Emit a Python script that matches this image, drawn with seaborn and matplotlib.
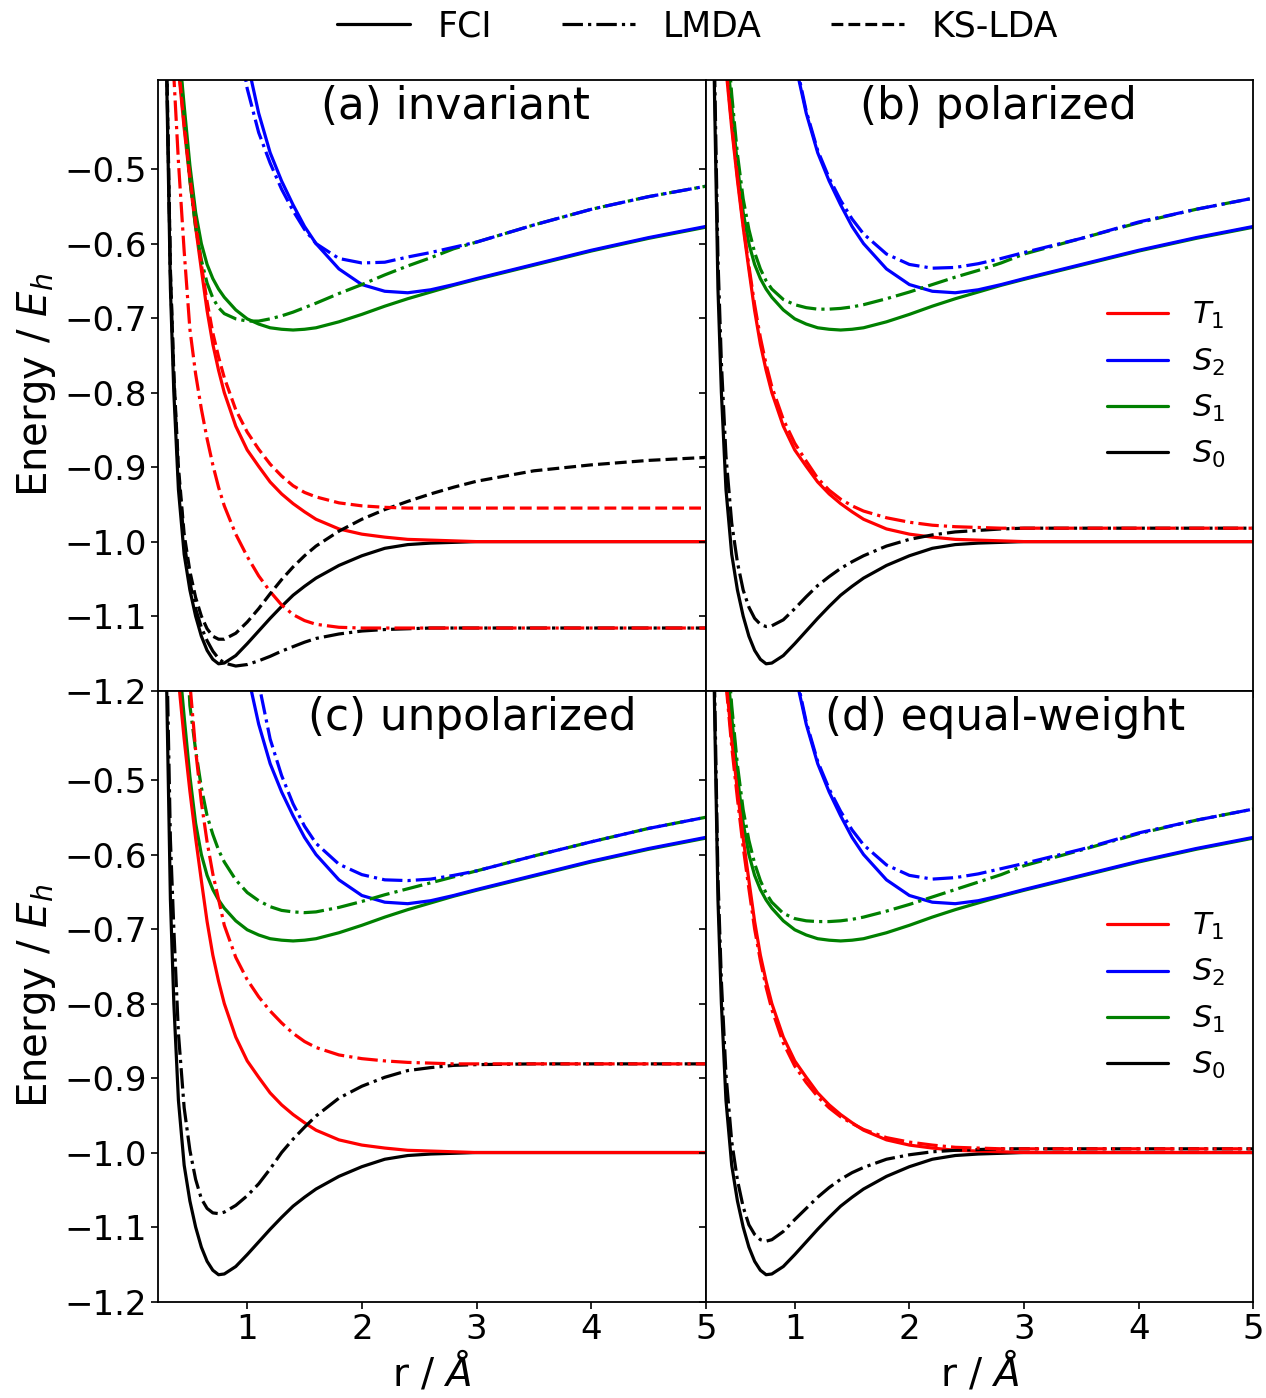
import numpy as np
import pandas as pd
import matplotlib
matplotlib.use("Agg")
import matplotlib.pyplot as plt
import seaborn as sns
from matplotlib.lines import Line2D

nan = np.nan

# bond length grid (Angstrom)
r = [0.22, 0.24, 0.26, 0.28, 0.30, 0.33, 0.36,
     0.40, 0.45, 0.50, 0.55, 0.60, 0.65, 0.70, 0.75, 0.80,
     0.90, 1.00, 1.10, 1.20, 1.30, 1.40, 1.50, 1.60,
     1.80, 2.00, 2.20, 2.40, 2.60, 2.80, 3.00,
     3.50, 4.00, 4.50, 5.00]

# FCI reference, identical in all panels
fci_s0 = [nan, nan, nan, -0.20, -0.40, -0.66, -0.80,
          -0.93, -1.017, -1.065, -1.10, -1.127, -1.146, -1.158, -1.164, -1.163,
          -1.153, -1.137, -1.120, -1.103, -1.087, -1.072, -1.060, -1.049,
          -1.032, -1.019, -1.009, -1.004, -1.002, -1.001, -1.000,
          -1.000, -1.000, -1.000, -1.000]
fci_s1 = [nan, nan, nan, nan, nan, nan, nan,
          -0.33, -0.415, -0.495, -0.558, -0.600, -0.628, -0.647, -0.661, -0.672,
          -0.689, -0.701, -0.708, -0.713, -0.715, -0.716, -0.715, -0.713,
          -0.705, -0.695, -0.684, -0.674, -0.665, -0.656, -0.648,
          -0.629, -0.610, -0.593, -0.578]
fci_s2 = [nan, nan, nan, nan, nan, nan, nan,
          nan, nan, nan, nan, nan, nan, nan, nan, nan,
          nan, -0.355, -0.425, -0.478, -0.516, -0.548, -0.577, -0.600,
          -0.634, -0.655, -0.664, -0.666, -0.662, -0.655, -0.647,
          -0.628, -0.609, -0.592, -0.577]
fci_t1 = [nan, nan, nan, nan, nan, nan, nan,
          -0.365, -0.445, -0.515, -0.578, -0.635, -0.69, -0.735, -0.77, -0.80,
          -0.845, -0.877, -0.899, -0.920, -0.936, -0.949, -0.960, -0.970,
          -0.983, -0.990, -0.994, -0.997, -0.998, -0.999, -1.000,
          -1.000, -1.000, -1.000, -1.000]

# (a) invariant: LMDA
lmda_a_s0 = [nan, nan, nan, -0.19, -0.38, -0.64, -0.78,
             -0.91, -1.00, -1.055, -1.09, -1.115, -1.133, -1.147, -1.157, -1.163,
             -1.167, -1.165, -1.160, -1.154, -1.147, -1.141, -1.135, -1.130,
             -1.124, -1.120, -1.118, -1.117, -1.116, -1.116, -1.116,
             -1.116, -1.116, -1.116, -1.116]
lmda_a_s1 = [nan, nan, nan, nan, nan, nan, nan,
             -0.33, -0.43, -0.515, -0.578, -0.622, -0.653, -0.673, -0.686, -0.694,
             -0.701, -0.704, -0.704, -0.701, -0.697, -0.692, -0.686, -0.680,
             -0.667, -0.655, -0.642, -0.630, -0.619, -0.607, -0.598,
             -0.575, -0.554, -0.537, -0.523]
lmda_a_s2 = [nan, nan, nan, nan, nan, nan, nan,
             nan, nan, nan, nan, nan, nan, nan, nan, nan,
             -0.30, -0.392, -0.451, -0.492, -0.527, -0.556, -0.581, -0.600,
             -0.620, -0.626, -0.625, -0.618, -0.612, -0.605, -0.598,
             -0.575, -0.554, -0.537, -0.523]
lmda_a_t1 = [nan, nan, nan, nan, nan, -0.26, -0.375,
             -0.49, -0.61, -0.715, -0.775, -0.822, -0.862, -0.897, -0.927, -0.952,
             -0.990, -1.020, -1.046, -1.067, -1.085, -1.098, -1.106, -1.111,
             -1.115, -1.116, -1.116, -1.116, -1.116, -1.116, -1.116,
             -1.116, -1.116, -1.116, -1.116]
# (a) invariant: KS-LDA
ks_a_s0 = [nan, nan, nan, -0.17, -0.37, -0.635, -0.775,
           -0.90, -0.99, -1.04, -1.075, -1.10, -1.117, -1.127, -1.131, -1.131,
           -1.123, -1.108, -1.090, -1.070, -1.051, -1.034, -1.019, -1.006,
           -0.986, -0.970, -0.957, -0.946, -0.936, -0.927, -0.919,
           -0.905, -0.897, -0.891, -0.887]
ks_a_t1 = [nan, nan, nan, nan, nan, nan, nan,
           -0.36, -0.44, -0.51, -0.572, -0.628, -0.678, -0.72, -0.752, -0.78,
           -0.823, -0.853, -0.876, -0.896, -0.912, -0.925, -0.934, -0.940,
           -0.948, -0.952, -0.954, -0.955, -0.955, -0.955, -0.955,
           -0.955, -0.955, -0.955, -0.955]

# (b) polarized: LMDA
lmda_b_s0 = [nan, nan, nan, -0.17, -0.36, -0.62, -0.76,
             -0.885, -0.975, -1.028, -1.065, -1.088, -1.103, -1.111, -1.114, -1.113,
             -1.105, -1.090, -1.074, -1.059, -1.047, -1.036, -1.027, -1.019,
             -1.006, -0.997, -0.991, -0.987, -0.985, -0.983, -0.982,
             -0.982, -0.982, -0.982, -0.982]
lmda_b_s1 = [nan, nan, nan, nan, nan, nan, nan,
             -0.30, -0.40, -0.48, -0.54, -0.581, -0.612, -0.634, -0.650, -0.661,
             -0.675, -0.682, -0.686, -0.688, -0.688, -0.687, -0.685, -0.682,
             -0.674, -0.665, -0.655, -0.645, -0.636, -0.626, -0.614,
             -0.593, -0.572, -0.554, -0.539]
lmda_b_s2 = [nan, nan, nan, nan, nan, nan, nan,
             nan, nan, nan, nan, nan, nan, nan, nan, nan,
             nan, -0.35, -0.422, -0.475, -0.512, -0.542, -0.567, -0.587,
             -0.614, -0.628, -0.633, -0.632, -0.627, -0.620, -0.612,
             -0.593, -0.571, -0.554, -0.539]
lmda_b_t1 = [nan, nan, nan, nan, nan, nan, nan,
             -0.36, -0.44, -0.51, -0.574, -0.63, -0.682, -0.726, -0.762, -0.792,
             -0.836, -0.868, -0.892, -0.915, -0.931, -0.943, -0.952, -0.959,
             -0.968, -0.974, -0.978, -0.980, -0.981, -0.982, -0.982,
             -0.982, -0.982, -0.982, -0.982]

# (c) unpolarized: LMDA
lmda_c_s0 = [nan, nan, nan, -0.16, -0.34, -0.58, -0.70,
             -0.84, -0.94, -0.997, -1.036, -1.062, -1.075, -1.081, -1.082, -1.080,
             -1.071, -1.058, -1.042, -1.022, -1.000, -0.982, -0.966, -0.951,
             -0.927, -0.911, -0.899, -0.890, -0.886, -0.883, -0.882,
             -0.881, -0.881, -0.881, -0.881]
lmda_c_s1 = [nan, nan, nan, nan, nan, nan, nan,
             nan, -0.25, -0.40, -0.46, -0.51, -0.548, -0.573, -0.594, -0.610,
             -0.634, -0.651, -0.662, -0.670, -0.675, -0.677, -0.678, -0.677,
             -0.671, -0.663, -0.654, -0.646, -0.638, -0.630, -0.622,
             -0.602, -0.583, -0.565, -0.550]
lmda_c_s2 = [nan, nan, nan, nan, nan, nan, nan,
             nan, nan, nan, nan, nan, nan, nan, nan, nan,
             nan, -0.25, -0.37, -0.445, -0.494, -0.532, -0.562, -0.585,
             -0.613, -0.627, -0.634, -0.635, -0.633, -0.628, -0.622,
             -0.602, -0.583, -0.565, -0.550]
lmda_c_t1 = [nan, nan, nan, nan, nan, nan, nan,
             nan, -0.24, -0.37, -0.46, -0.53, -0.583, -0.626, -0.66, -0.695,
             -0.738, -0.768, -0.791, -0.810, -0.826, -0.840, -0.851, -0.859,
             -0.869, -0.874, -0.877, -0.879, -0.880, -0.881, -0.881,
             -0.881, -0.881, -0.881, -0.881]

# (d) equal-weight: LMDA
lmda_d_s0 = [nan, nan, nan, -0.18, -0.37, -0.63, -0.77,
             -0.895, -0.985, -1.037, -1.073, -1.097, -1.110, -1.117, -1.119, -1.117,
             -1.106, -1.090, -1.075, -1.060, -1.047, -1.036, -1.027, -1.020,
             -1.009, -1.003, -0.999, -0.997, -0.996, -0.995, -0.995,
             -0.995, -0.995, -0.995, -0.995]
lmda_d_s1 = [nan, nan, nan, nan, nan, nan, nan,
             -0.30, -0.40, -0.48, -0.54, -0.581, -0.612, -0.635, -0.652, -0.664,
             -0.679, -0.686, -0.689, -0.690, -0.690, -0.689, -0.687, -0.684,
             -0.676, -0.667, -0.657, -0.647, -0.637, -0.627, -0.615,
             -0.594, -0.572, -0.554, -0.539]
lmda_d_s2 = [nan, nan, nan, nan, nan, nan, nan,
             nan, nan, nan, nan, nan, nan, nan, nan, nan,
             nan, -0.35, -0.422, -0.475, -0.512, -0.542, -0.567, -0.587,
             -0.614, -0.628, -0.633, -0.631, -0.626, -0.619, -0.612,
             -0.593, -0.571, -0.554, -0.539]
lmda_d_t1 = [nan, nan, nan, nan, nan, nan, nan,
             -0.37, -0.455, -0.525, -0.59, -0.646, -0.70, -0.742, -0.778, -0.808,
             -0.853, -0.884, -0.906, -0.925, -0.940, -0.952, -0.961, -0.969,
             -0.980, -0.986, -0.990, -0.993, -0.994, -0.995, -0.995,
             -0.995, -0.995, -0.995, -0.995]

states = ["S0", "S1", "S2", "T1"]
colors = {"T1": "red", "S2": "blue", "S1": "green", "S0": "black"}
fci = {"S0": fci_s0, "S1": fci_s1, "S2": fci_s2, "T1": fci_t1}

panels = [
    ("(a) invariant", 0.542,
     {"S0": lmda_a_s0, "S1": lmda_a_s1, "S2": lmda_a_s2, "T1": lmda_a_t1},
     {"S0": ks_a_s0, "T1": ks_a_t1}),
    ("(b) polarized", 0.534,
     {"S0": lmda_b_s0, "S1": lmda_b_s1, "S2": lmda_b_s2, "T1": lmda_b_t1}, {}),
    ("(c) unpolarized", 0.573,
     {"S0": lmda_c_s0, "S1": lmda_c_s1, "S2": lmda_c_s2, "T1": lmda_c_t1}, {}),
    ("(d) equal-weight", 0.546,
     {"S0": lmda_d_s0, "S1": lmda_d_s1, "S2": lmda_d_s2, "T1": lmda_d_t1}, {}),
]

sns.set_style("ticks")
plt.rcParams["font.family"] = ["DejaVu Sans"]
plt.rcParams["mathtext.fontset"] = "dejavusans"
for key in ["text.color", "axes.labelcolor", "xtick.color", "ytick.color", "axes.edgecolor"]:
    plt.rcParams[key] = "black"


def draw(ax, values, color, style):
    df = pd.DataFrame({"r": r, "E": values}).dropna()
    sns.lineplot(data=df, x="r", y="E", ax=ax, color=color, linestyle=style,
                 linewidth=2.3, estimator=None, sort=False)


fig, axes = plt.subplots(2, 2, figsize=(12.66, 13.98), sharex=True, sharey=True)
plt.subplots_adjust(left=0.125, right=0.99, top=0.943, bottom=0.069,
                    wspace=0, hspace=0)

for ax, (title, tx, lmda, ks) in zip(axes.flat, panels):
    for s in states:
        draw(ax, fci[s], colors[s], "-")
    for s in states:
        draw(ax, lmda[s], colors[s], "-.")
    for s in states:
        if s in ks:
            draw(ax, ks[s], colors[s], "--")
    ax.text(tx, 0.956, title, transform=ax.transAxes, ha="center", va="center",
            fontsize=31.5)
    ax.set_xlim(0.224, 5.0)
    ax.set_ylim(-1.2, -0.38)
    ax.set_xticks([1, 2, 3, 4, 5])
    ax.set_yticks([-1.2, -1.1, -1.0, -0.9, -0.8, -0.7, -0.6, -0.5])
    ax.tick_params(labelsize=24.5, length=5, width=1.2)
    ax.set_xlabel("")
    ax.set_ylabel("")
    for sp in ax.spines.values():
        sp.set_linewidth(1.3)

for ax in axes[:, 0]:
    ax.set_ylabel("Energy / $E_h$", fontsize=29)
for ax in axes[1, :]:
    ax.set_xlabel("r / $Å$", fontsize=28, labelpad=2)

state_handles = [Line2D([], [], color=colors[s], lw=2.3) for s in ["T1", "S2", "S1", "S0"]]
state_labels = ["$T_1$", "$S_2$", "$S_1$", "$S_0$"]
for ax in [axes[0, 1], axes[1, 1]]:
    ax.legend(state_handles, state_labels, loc="center right", frameon=False,
              fontsize=22)

method_handles = [Line2D([], [], color="black", lw=2.3, ls=ls) for ls in ["-", "-.", "--"]]
fig.legend(method_handles, ["FCI", "LMDA", "KS-LDA"], loc="center",
           bbox_to_anchor=(0.551, 0.981), ncol=3, frameon=False, fontsize=25,
           handlelength=2.1)

fig.savefig("out.png", dpi=100)
